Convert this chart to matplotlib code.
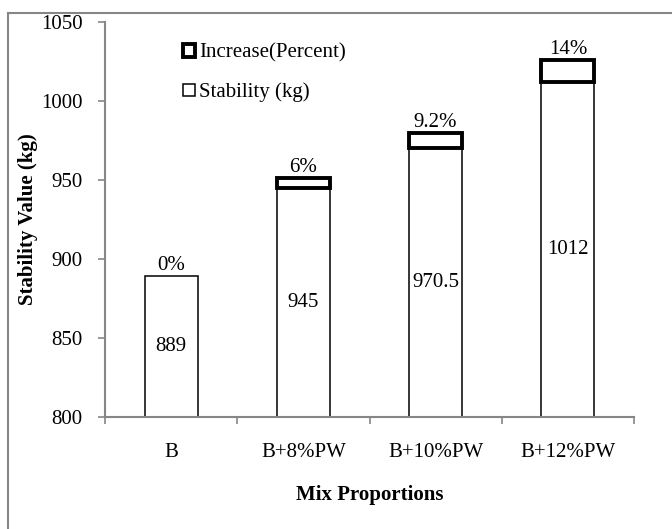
import numpy as np
import matplotlib.pyplot as plt
from matplotlib.lines import Line2D

# data
categories = ['B', 'B+8%PW', 'B+10%PW', 'B+12%PW']
stability = np.array([889, 945, 970.5, 1012])
increase = np.array([0, 6, 9.2, 14])
pct_labels = ['0%', '6%', '9.2%', '14%']

plt.rcParams['font.family'] = ['Liberation Serif', 'DejaVu Serif']
plt.rcParams['font.size'] = 15

grey = '#868686'

fig = plt.figure(figsize=(6.72, 5.29), dpi=100)
ax = fig.add_axes([105 / 672, 1 - 417 / 529, 529 / 672, 395 / 529])

x = np.arange(len(categories))
bars_stab = ax.bar(x, stability, width=0.4, color='white', edgecolor='black',
                   linewidth=1.1, label='Stability (kg)')

# only segments with a visible increase get the thick box
m = increase > 0
bars_inc = ax.bar(x[m], increase[m], bottom=stability[m], width=0.4, color='white',
                  edgecolor='black', linewidth=2.8, label='Increase(Percent)')

for xi, s, inc, p in zip(x, stability, increase, pct_labels):
    ax.text(xi, (800 + s) / 2, f'{s:g}', ha='center', va='center')
    ax.annotate(p, (xi, s + inc), xytext=(0, 1), textcoords='offset points',
                ha='center', va='bottom')

ax.set_ylim(800, 1050)
ax.set_xlim(-0.5, 3.5)
ax.set_yticks(np.arange(800, 1051, 50))
ax.set_xticks(x)
ax.set_xticklabels(categories)
ax.set_xticks(np.arange(-0.5, 4, 1), minor=True)
ax.tick_params(axis='x', which='major', length=0, pad=19)
ax.tick_params(axis='x', which='minor', length=5, width=1.2, color=grey, direction='out')
ax.tick_params(axis='y', length=5, width=1.2, color=grey, pad=11)

for side in ['top', 'right']:
    ax.spines[side].set_visible(False)
for side in ['left', 'bottom']:
    ax.spines[side].set_color(grey)
    ax.spines[side].set_linewidth(1.5)

ax.set_xlabel('Mix Proportions', fontweight='bold', labelpad=16)
ax.set_ylabel('Stability Value (kg)', fontweight='bold', labelpad=2)

ax.legend([bars_inc, bars_stab], ['Increase(Percent)', 'Stability (kg)'],
          loc='upper left', bbox_to_anchor=(173 / 672, 1 - 33 / 529),
          bbox_transform=fig.transFigure, frameon=False, borderpad=0,
          handlelength=0.55, handleheight=0.55, handletextpad=0.2, labelspacing=0.95)

# outer chart border (left and top visible)
fig.add_artist(Line2D([8 / 672, 8 / 672], [0, 1 - 13 / 529], color=grey, lw=1.5))
fig.add_artist(Line2D([8 / 672, 1], [1 - 13 / 529, 1 - 13 / 529], color=grey, lw=1.5))

fig.savefig('out.png', dpi=100)
